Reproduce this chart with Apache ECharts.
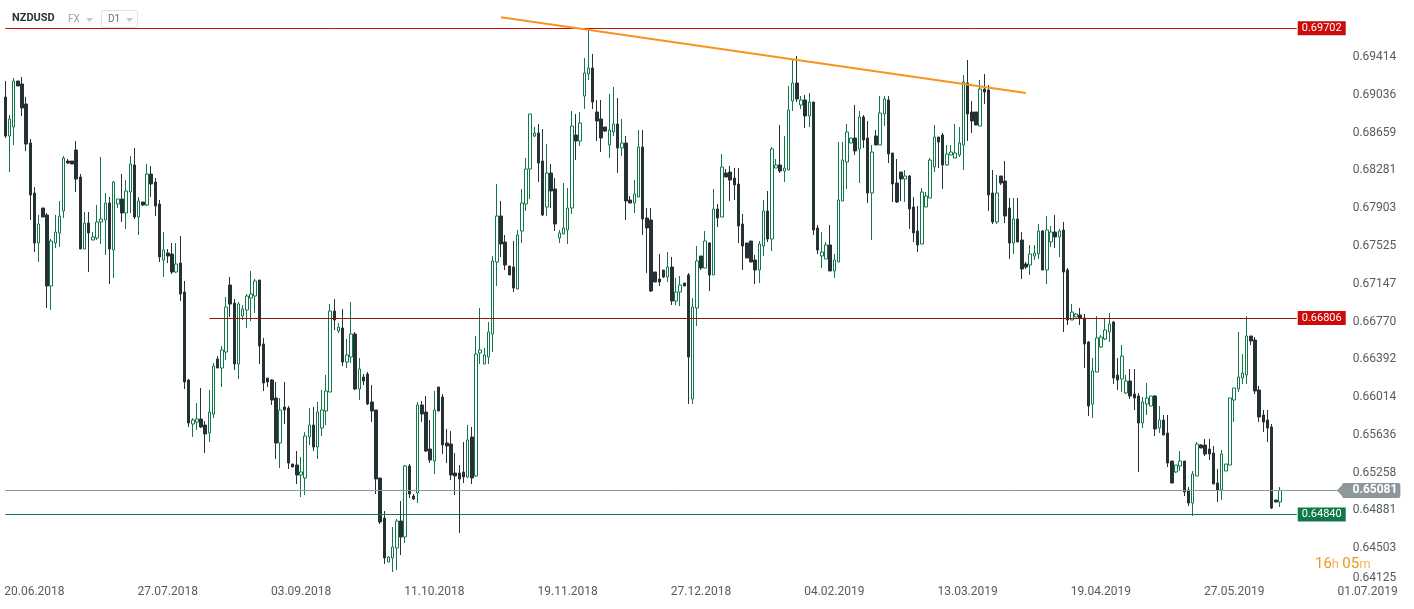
<!DOCTYPE html>
<html>
<head>
<meta charset="utf-8">
<title>NZDUSD D1</title>
<script src="https://cdn.jsdelivr.net/npm/echarts@6/dist/echarts.min.js"></script>
<style>
  html, body { margin: 0; padding: 0; background: #ffffff; }
  #chart { width: 1414px; height: 609px; }
</style>
</head>
<body>
<div id="chart"></div>
<script>
// daily candles, one per slot (broker shows 6 sessions a week)
const opens = [
  0.69015, 0.68625, 0.68715, 0.69175, 0.69145, 0.68945, 0.68555, 0.68055, 0.67555, 0.67905,
  0.67835, 0.67125, 0.67555, 0.67655, 0.67875, 0.68375, 0.68375, 0.68485, 0.68215, 0.67495,
  0.67755, 0.67585, 0.67605, 0.67765, 0.67785, 0.67955, 0.67485, 0.67945, 0.67995, 0.67855,
  0.68065, 0.68335, 0.67815, 0.67965, 0.67935, 0.68245, 0.68165, 0.67945, 0.67385, 0.67455,
  0.67445, 0.67265, 0.67355, 0.67065, 0.66185, 0.65745, 0.65765, 0.65795, 0.65735, 0.65655,
  0.65845, 0.66395, 0.66305, 0.66465, 0.67135, 0.66955, 0.66345, 0.66825, 0.66885, 0.67005,
  0.67025, 0.67185, 0.66545, 0.66205, 0.66185, 0.66005, 0.65555, 0.65915, 0.65905, 0.65345,
  0.65335, 0.65235, 0.65205, 0.65615, 0.65735, 0.65515, 0.65705, 0.65875, 0.66065, 0.66875,
  0.66675, 0.66705, 0.66365, 0.66415, 0.66645, 0.66095, 0.66215, 0.66245, 0.65965, 0.65885,
  0.65205, 0.64805, 0.64365, 0.64405, 0.64505, 0.64775, 0.64615, 0.65325, 0.65025, 0.65055,
  0.65935, 0.65865, 0.65495, 0.65375, 0.66115, 0.66015, 0.65555, 0.65545, 0.65255, 0.65255,
  0.65265, 0.65215, 0.65615, 0.65225, 0.66455, 0.66345, 0.66415, 0.66645, 0.67365, 0.67825,
  0.67565, 0.67325, 0.67315, 0.67095, 0.67675, 0.67945, 0.68295, 0.68625, 0.68655, 0.68375,
  0.67915, 0.68255, 0.68095, 0.67605, 0.67645, 0.67685, 0.67905, 0.68635, 0.68575, 0.69025,
  0.69245, 0.69305, 0.68865, 0.68795, 0.68715, 0.68535, 0.68665, 0.68745, 0.68505, 0.68555,
  0.67985, 0.67955, 0.68015, 0.68515, 0.67805, 0.67785, 0.67265, 0.67195, 0.67285, 0.67215,
  0.67315, 0.66975, 0.67065, 0.67155, 0.67235, 0.65995, 0.66905, 0.67425, 0.67305, 0.67555,
  0.67235, 0.67895, 0.67815, 0.68255, 0.68265, 0.68205, 0.68145, 0.67745, 0.67555, 0.67575,
  0.67385, 0.67285, 0.67525, 0.67875, 0.67595, 0.68305, 0.68335, 0.68275, 0.68285, 0.68975,
  0.69155, 0.68935, 0.68985, 0.68825, 0.68965, 0.67705, 0.67425, 0.67395, 0.67535, 0.67275,
  0.67365, 0.67975, 0.68365, 0.68555, 0.68605, 0.68495, 0.68815, 0.68605, 0.68055, 0.68625,
  0.68535, 0.68845, 0.68985, 0.68455, 0.68155, 0.68265, 0.68195, 0.68225, 0.67915, 0.67675,
  0.67545, 0.67915, 0.68005, 0.68315, 0.68615, 0.68635, 0.68335, 0.68435, 0.68405, 0.68435,
  0.68535, 0.69155, 0.68865, 0.68865, 0.68725, 0.69095, 0.69085, 0.68055, 0.67765, 0.68225,
  0.68175, 0.67905, 0.67555, 0.67795, 0.67585, 0.67345, 0.67335, 0.67425, 0.67445, 0.67675,
  0.67285, 0.67565, 0.67665, 0.67615, 0.67685, 0.67285, 0.66785, 0.66815, 0.66835, 0.66805,
  0.66565, 0.65945, 0.66265, 0.66515, 0.66595, 0.66665, 0.66765, 0.66235, 0.66195, 0.66055,
  0.66175, 0.66045, 0.66025, 0.65755, 0.65945, 0.65925, 0.66025, 0.65705, 0.65785, 0.65655,
  0.65375, 0.65265, 0.65325, 0.65375, 0.65085, 0.64955, 0.65225, 0.65535, 0.65535, 0.65495,
  0.65455, 0.65155, 0.65085, 0.65275, 0.65335, 0.65985, 0.66095, 0.66205, 0.66235, 0.66625,
  0.66585, 0.66085, 0.65835, 0.65785, 0.65715, 0.64985, 0.64965
];
const closes = [
  0.68625, 0.68795, 0.69175, 0.69125, 0.68905, 0.68545, 0.68035, 0.67555, 0.67745, 0.67815,
  0.67125, 0.67575, 0.67665, 0.67825, 0.68405, 0.68355, 0.68345, 0.68195, 0.67495, 0.67755,
  0.67655, 0.67615, 0.67765, 0.67795, 0.67955, 0.67495, 0.68165, 0.67995, 0.67855, 0.68075,
  0.68345, 0.67815, 0.67975, 0.67935, 0.68245, 0.68145, 0.67925, 0.67415, 0.67485, 0.67425,
  0.67265, 0.67345, 0.67045, 0.66165, 0.65755, 0.65785, 0.65795, 0.65715, 0.65645, 0.65865,
  0.66325, 0.66305, 0.66485, 0.66915, 0.66945, 0.66345, 0.66945, 0.66895, 0.67025, 0.67045,
  0.67175, 0.66525, 0.66155, 0.66165, 0.65985, 0.65555, 0.65885, 0.65885, 0.65355, 0.65315,
  0.65235, 0.65265, 0.65625, 0.65735, 0.65515, 0.65865, 0.65885, 0.66075, 0.66875, 0.66785,
  0.66715, 0.66365, 0.66435, 0.66645, 0.66095, 0.66295, 0.66175, 0.65945, 0.65875, 0.65195,
  0.64765, 0.64405, 0.64415, 0.64515, 0.64775, 0.64615, 0.65325, 0.65045, 0.64995, 0.65935,
  0.65845, 0.65475, 0.65385, 0.65885, 0.65875, 0.65535, 0.65525, 0.65235, 0.65225, 0.65195,
  0.65215, 0.65585, 0.65205, 0.66445, 0.66485, 0.66435, 0.66665, 0.67375, 0.67825, 0.67545,
  0.67335, 0.67235, 0.67105, 0.67635, 0.67955, 0.68295, 0.68845, 0.68655, 0.68355, 0.67835,
  0.68255, 0.68075, 0.67745, 0.67655, 0.67705, 0.67905, 0.68725, 0.68575, 0.68755, 0.69255,
  0.69305, 0.68965, 0.68775, 0.68605, 0.68675, 0.68685, 0.68745, 0.68505, 0.68555, 0.67975,
  0.67955, 0.68045, 0.68515, 0.67795, 0.67705, 0.67075, 0.67165, 0.67165, 0.67215, 0.67315,
  0.66975, 0.67065, 0.67135, 0.67125, 0.66415, 0.66915, 0.67375, 0.67305, 0.67575, 0.67235,
  0.67895, 0.67805, 0.68315, 0.68215, 0.68185, 0.68135, 0.67725, 0.67525, 0.67405, 0.67365,
  0.67285, 0.67545, 0.67875, 0.67595, 0.68495, 0.68335, 0.68275, 0.68305, 0.68885, 0.69155,
  0.68995, 0.68985, 0.68825, 0.68965, 0.67685, 0.67485, 0.67465, 0.67535, 0.67275, 0.67385,
  0.67985, 0.68385, 0.68665, 0.68605, 0.68475, 0.68815, 0.68585, 0.68055, 0.68465, 0.68535,
  0.68855, 0.68995, 0.68445, 0.68145, 0.67965, 0.68195, 0.68225, 0.67895, 0.67655, 0.67535,
  0.68065, 0.68025, 0.68385, 0.68615, 0.68565, 0.68335, 0.68445, 0.68465, 0.68455, 0.68555,
  0.69165, 0.68845, 0.68775, 0.68735, 0.69095, 0.69065, 0.68035, 0.67765, 0.68055, 0.68155,
  0.67825, 0.67555, 0.67795, 0.67565, 0.67295, 0.67315, 0.67445, 0.67455, 0.67675, 0.67285,
  0.67685, 0.67665, 0.67615, 0.67675, 0.67265, 0.66785, 0.66865, 0.66845, 0.66805, 0.66545,
  0.65925, 0.66275, 0.66605, 0.66615, 0.66685, 0.66745, 0.66205, 0.66185, 0.66425, 0.66175,
  0.66025, 0.66005, 0.65755, 0.65965, 0.66005, 0.66025, 0.65695, 0.65785, 0.65635, 0.65355,
  0.65155, 0.65335, 0.65375, 0.65065, 0.64955, 0.65245, 0.65545, 0.65505, 0.65445, 0.65445,
  0.65145, 0.65085, 0.65445, 0.65345, 0.66005, 0.66105, 0.66215, 0.66255, 0.66625, 0.66575,
  0.66075, 0.65815, 0.65765, 0.65705, 0.64905, 0.64965, 0.65081
];
const lows = [
  0.68605, 0.68265, 0.68535, 0.69125, 0.68825, 0.68475, 0.67785, 0.67465, 0.67365, 0.67815,
  0.66905, 0.66885, 0.67505, 0.67515, 0.67805, 0.68345, 0.68345, 0.68065, 0.67495, 0.67495,
  0.67265, 0.67585, 0.67585, 0.67545, 0.67435, 0.67145, 0.67205, 0.67905, 0.67765, 0.67695,
  0.67855, 0.67795, 0.67635, 0.67925, 0.67925, 0.68015, 0.67825, 0.67365, 0.67215, 0.67355,
  0.67245, 0.67255, 0.66975, 0.66095, 0.65715, 0.65615, 0.65685, 0.65705, 0.65455, 0.65565,
  0.65805, 0.66305, 0.66115, 0.66385, 0.66815, 0.66285, 0.66195, 0.66785, 0.66705, 0.66775,
  0.66855, 0.66345, 0.66075, 0.66115, 0.65935, 0.65395, 0.65305, 0.65745, 0.65295, 0.65315,
  0.65145, 0.65015, 0.65035, 0.65535, 0.65475, 0.65395, 0.65625, 0.65735, 0.66065, 0.66685,
  0.66655, 0.66325, 0.66305, 0.66355, 0.66085, 0.65985, 0.66135, 0.65935, 0.65765, 0.65045,
  0.64745, 0.64345, 0.64365, 0.64265, 0.64285, 0.64435, 0.64555, 0.65005, 0.64985, 0.64955,
  0.65765, 0.65465, 0.65355, 0.65245, 0.65875, 0.65445, 0.65355, 0.65185, 0.65035, 0.64655,
  0.65155, 0.65205, 0.65145, 0.65215, 0.66345, 0.66345, 0.66345, 0.66465, 0.67125, 0.67415,
  0.67285, 0.67235, 0.67065, 0.67095, 0.67555, 0.67875, 0.67995, 0.68615, 0.68165, 0.67825,
  0.67825, 0.67905, 0.67675, 0.67555, 0.67645, 0.67545, 0.67845, 0.68385, 0.68525, 0.68895,
  0.69185, 0.68895, 0.68575, 0.68465, 0.68665, 0.68405, 0.68625, 0.68255, 0.68425, 0.67785,
  0.67955, 0.67855, 0.68015, 0.67635, 0.67255, 0.67065, 0.67165, 0.67125, 0.67205, 0.67165,
  0.66935, 0.66935, 0.66925, 0.67125, 0.65945, 0.65945, 0.66725, 0.67285, 0.67305, 0.67075,
  0.67235, 0.67715, 0.67815, 0.68215, 0.67975, 0.67985, 0.67555, 0.67285, 0.67405, 0.67365,
  0.67145, 0.67155, 0.67425, 0.67565, 0.67475, 0.68305, 0.68255, 0.68165, 0.68285, 0.68875,
  0.68965, 0.68895, 0.68705, 0.68715, 0.67635, 0.67445, 0.67305, 0.67395, 0.67275, 0.67205,
  0.67365, 0.67975, 0.68095, 0.68555, 0.68435, 0.68155, 0.68505, 0.67955, 0.67585, 0.68535,
  0.68535, 0.68725, 0.68355, 0.67965, 0.67955, 0.67975, 0.67965, 0.67695, 0.67565, 0.67465,
  0.67545, 0.67915, 0.68005, 0.68265, 0.68305, 0.68095, 0.68325, 0.68435, 0.68405, 0.68415,
  0.68285, 0.68575, 0.68655, 0.68735, 0.68725, 0.68945, 0.67875, 0.67745, 0.67745, 0.68135,
  0.67755, 0.67395, 0.67445, 0.67565, 0.67195, 0.67295, 0.67235, 0.67385, 0.67395, 0.67285,
  0.67145, 0.67515, 0.67505, 0.67415, 0.66665, 0.66735, 0.66785, 0.66815, 0.66735, 0.66305,
  0.65825, 0.65805, 0.66265, 0.66505, 0.66585, 0.66565, 0.66145, 0.66085, 0.66065, 0.66045,
  0.65995, 0.65885, 0.65265, 0.65705, 0.65835, 0.65925, 0.65625, 0.65655, 0.65635, 0.65315,
  0.65155, 0.65255, 0.65275, 0.65025, 0.64925, 0.64825, 0.65225, 0.65505, 0.65425, 0.65385,
  0.65145, 0.64965, 0.64985, 0.65275, 0.65335, 0.65765, 0.66065, 0.66145, 0.66145, 0.66535,
  0.66045, 0.65765, 0.65665, 0.65565, 0.64895, 0.64965, 0.64915
];
const highs = [
  0.69175, 0.68835, 0.69205, 0.69175, 0.69215, 0.69015, 0.68595, 0.68115, 0.67835, 0.67905,
  0.67855, 0.67595, 0.67835, 0.67975, 0.68425, 0.68395, 0.68375, 0.68575, 0.68245, 0.67865,
  0.67865, 0.67665, 0.67935, 0.68415, 0.68055, 0.68015, 0.68175, 0.67995, 0.68245, 0.68185,
  0.68425, 0.68505, 0.68015, 0.67965, 0.68345, 0.68325, 0.68205, 0.67985, 0.67665, 0.67495,
  0.67555, 0.67555, 0.67625, 0.67175, 0.66195, 0.65805, 0.65955, 0.66105, 0.65775, 0.66085,
  0.66355, 0.66425, 0.66525, 0.67015, 0.67215, 0.66995, 0.66965, 0.66935, 0.67045, 0.67275,
  0.67195, 0.67185, 0.66605, 0.66205, 0.66195, 0.66165, 0.66005, 0.66165, 0.65925, 0.65345,
  0.65475, 0.65415, 0.65665, 0.65905, 0.65915, 0.65965, 0.66085, 0.66235, 0.66945, 0.66995,
  0.66755, 0.66895, 0.66595, 0.66965, 0.66665, 0.66405, 0.66245, 0.66265, 0.66135, 0.65885,
  0.65205, 0.64875, 0.64425, 0.64715, 0.64795, 0.64975, 0.65335, 0.65345, 0.65045, 0.65965,
  0.65975, 0.66025, 0.65785, 0.66075, 0.66115, 0.66045, 0.65695, 0.65675, 0.65455, 0.65335,
  0.65565, 0.65735, 0.65715, 0.66625, 0.66905, 0.66505, 0.66765, 0.67425, 0.68145, 0.67975,
  0.67635, 0.67325, 0.67575, 0.67685, 0.68095, 0.68405, 0.68845, 0.68715, 0.68745, 0.68695,
  0.68545, 0.68345, 0.68205, 0.67685, 0.68155, 0.68105, 0.68875, 0.68845, 0.68865, 0.69405,
  0.69685, 0.69445, 0.68985, 0.68985, 0.68715, 0.69045, 0.69115, 0.69005, 0.68795, 0.68625,
  0.68025, 0.68185, 0.68685, 0.68685, 0.67905, 0.67905, 0.67265, 0.67445, 0.67285, 0.67465,
  0.67415, 0.67205, 0.67225, 0.67155, 0.67255, 0.67005, 0.67525, 0.67425, 0.67675, 0.67565,
  0.68095, 0.67945, 0.68445, 0.68295, 0.68325, 0.68305, 0.68305, 0.67845, 0.67555, 0.67575,
  0.67435, 0.67575, 0.67985, 0.68075, 0.68515, 0.68395, 0.68735, 0.68625, 0.69125, 0.69385,
  0.69425, 0.69025, 0.69035, 0.69055, 0.68965, 0.67735, 0.67665, 0.67565, 0.67735, 0.67445,
  0.68565, 0.68565, 0.68745, 0.68605, 0.68935, 0.68875, 0.68835, 0.68775, 0.68535, 0.68685,
  0.69025, 0.69025, 0.69025, 0.68455, 0.68395, 0.68265, 0.68285, 0.68235, 0.68015, 0.67925,
  0.68105, 0.68065, 0.68405, 0.68735, 0.68615, 0.68655, 0.68535, 0.68535, 0.68745, 0.68715,
  0.69235, 0.69385, 0.68975, 0.68865, 0.69185, 0.69245, 0.69135, 0.68285, 0.68235, 0.68225,
  0.68375, 0.68005, 0.68005, 0.68005, 0.67665, 0.67365, 0.67535, 0.67535, 0.67745, 0.67685,
  0.67825, 0.67725, 0.67835, 0.67695, 0.67765, 0.67305, 0.66945, 0.66855, 0.66905, 0.66845,
  0.66575, 0.66405, 0.66825, 0.66635, 0.66805, 0.66855, 0.66775, 0.66405, 0.66535, 0.66235,
  0.66295, 0.66295, 0.66055, 0.66015, 0.66155, 0.66025, 0.66035, 0.65925, 0.65835, 0.65835,
  0.65375, 0.65335, 0.65475, 0.65375, 0.65115, 0.65275, 0.65565, 0.65545, 0.65595, 0.65595,
  0.65525, 0.65295, 0.65485, 0.65345, 0.66005, 0.66105, 0.66665, 0.66445, 0.66825, 0.66625,
  0.66615, 0.66125, 0.65885, 0.65885, 0.65745, 0.64985, 0.65115
];

// x axis: candle slots and the dates printed under them
const slotCount = 338;
const firstLabelSlot = 7;
const labelStep = 32;
const dateLabels = ['20.06.2018', '27.07.2018', '03.09.2018', '11.10.2018', '19.11.2018',
  '27.12.2018', '04.02.2019', '13.03.2019', '19.04.2019', '27.05.2019', '01.07.2019'];

// y axis ticks as printed by the platform
const yMin = 0.64125;
const yMax = 0.69985;
const yStep = 0.003778;
const yTickLabels = ['0.64125', '0.64503', '0.64881', '0.65258', '0.65636', '0.66014', '0.66392',
  '0.66770', '0.67147', '0.67525', '0.67903', '0.68281', '0.68659', '0.69036', '0.69414'];

// drawn levels: price, first slot, last slot
const levelPrices = [0.69702, 0.66806, 0.64840];
const levelStartSlots = [0, 49, 0];
const levelEndSlot = 310;
const lastPrice = 0.65081;
const lastPriceEndSlot = 321;
// drawn trendline
const trendSlots = [119, 245];
const trendPrices = [0.69812, 0.69055];

const slots = [];
for (let i = 0; i < slotCount; i++) slots.push(String(i));
const candles = opens.map((o, i) => [o, closes[i], lows[i], highs[i]]);

const FONT = 'Roboto, "Open Sans", sans-serif';
const RED = '#cc0a0a';
const GREEN = '#12784a';
const levelLineColors = [RED, '#8e1414', GREEN];
const levelTagColors = [RED, RED, GREEN];

const markData = levelPrices.map((v, k) => [
  {
    coord: [levelStartSlots[k], v],
    lineStyle: { color: levelLineColors[k], width: 1, type: 'solid' },
    label: {
      show: true, position: 'end', distance: 1, formatter: v.toFixed(5),
      color: '#fff', backgroundColor: levelTagColors[k], fontSize: 11, fontFamily: FONT,
      padding: [2, 4, 1, 4]
    }
  },
  { coord: [levelEndSlot, v] }
]);
// current price line with its grey tag
markData.push([
  {
    coord: [0, lastPrice],
    lineStyle: { color: '#8e989c', width: 1, type: 'solid' },
    label: {
      show: true, position: 'end', distance: 0, formatter: lastPrice.toFixed(5),
      color: '#fff', backgroundColor: '#8e989c', fontSize: 12, fontWeight: 'bold',
      fontFamily: FONT, padding: [2, 3, 1, 10], borderRadius: [0, 2, 2, 0]
    }
  },
  { coord: [lastPriceEndSlot, lastPrice] }
]);
markData.push([
  {
    coord: [trendSlots[0], trendPrices[0]],
    lineStyle: { color: '#f7931e', width: 2, type: 'solid' },
    label: { show: false }
  },
  { coord: [trendSlots[1], trendPrices[1]] }
]);

const chart = echarts.init(document.getElementById('chart'));
chart.setOption({
  backgroundColor: '#ffffff',
  animation: false,
  grid: { left: 3.2, right: 2.7, top: 0, bottom: 23 },
  xAxis: {
    type: 'category',
    data: slots,
    boundaryGap: true,
    axisLine: { show: false },
    axisTick: { show: false },
    splitLine: { show: false },
    axisLabel: {
      interval: idx => idx >= firstLabelSlot && (idx - firstLabelSlot) % labelStep === 0,
      formatter: (val, idx) => dateLabels[(idx - firstLabelSlot) / labelStep] || '',
      color: '#555b5e', fontSize: 12, fontFamily: FONT, margin: 0
    }
  },
  yAxis: {
    type: 'value',
    position: 'right',
    min: yMin,
    max: yMax,
    interval: yStep,
    axisLine: { show: false },
    axisTick: { show: false },
    splitLine: { show: false },
    axisLabel: {
      inside: true,
      margin: 15,
      color: '#555b5e', fontSize: 12, fontFamily: FONT,
      formatter: v => {
        const s = v.toFixed(5);
        if (yTickLabels.indexOf(s) < 0) return '';
        return s === yTickLabels[0] ? '{lo|' + s + '}' : s;
      },
      rich: { lo: { color: '#555b5e', fontSize: 12, fontFamily: FONT, padding: [0, 0, 16, 0] } }
    }
  },
  graphic: [
    { type: 'text', left: 12, top: 13, style: { text: 'NZDUSD', fill: '#2b3336', font: 'bold 11px ' + FONT } },
    { type: 'text', left: 68, top: 14, style: { text: 'FX', fill: '#9aa2a6', font: '10px ' + FONT } },
    { type: 'polygon', shape: { points: [[86, 18], [93, 18], [89.5, 22]] }, style: { fill: '#c3c9cc' } },
    { type: 'rect', shape: { x: 101.5, y: 10.5, width: 36, height: 17, r: 2 }, style: { fill: '#fff', stroke: '#dde1e3' } },
    { type: 'text', left: 108, top: 14, style: { text: 'D1', fill: '#6b7378', font: '10px ' + FONT } },
    { type: 'polygon', shape: { points: [[126, 18], [133, 18], [129.5, 22]] }, style: { fill: '#c3c9cc' } },
    // small arrow on the left of the current price tag
    { type: 'polygon', shape: { points: [[1337, 490.5], [1343, 484], [1343, 497]] }, style: { fill: '#8e989c' } },
    {
      type: 'text', left: 1315, top: 557,
      style: {
        text: '{n|16}{u|h} {n|05}{u|m}',
        rich: {
          n: { fill: '#f39419', fontSize: 15, fontFamily: FONT },
          u: { fill: '#f6b464', fontSize: 13, fontFamily: FONT }
        }
      }
    }
  ],
  series: [{
    type: 'candlestick',
    data: candles,
    barWidth: 3,
    itemStyle: {
      color: '#ffffff',
      borderColor: GREEN,
      color0: '#263136',
      borderColor0: '#263136',
      borderWidth: 1
    },
    markLine: {
      silent: true,
      symbol: 'none',
      animation: false,
      data: markData
    }
  }]
});
</script>
</body>
</html>
